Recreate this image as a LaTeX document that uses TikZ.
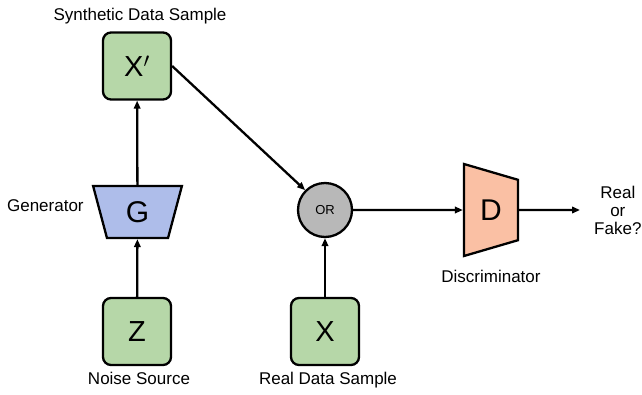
\documentclass[tikz,border=0pt]{standalone}
\usepackage{fontspec}
\setmainfont{Liberation Sans}
\usetikzlibrary{arrows.meta,positioning,shapes.geometric}
\definecolor{samplegreen}{RGB}{182,215,168}
\definecolor{genblue}{RGB}{174,189,234}
\definecolor{discred}{RGB}{250,192,164}
\definecolor{orgray}{RGB}{184,184,184}

\begin{document}
\begin{tikzpicture}[
  x=1pt,y=-1pt,
  node distance=6pt,
  lbl/.style={font=\fontsize{17}{18}\selectfont,inner sep=0pt,align=center},
  sample/.style={draw,line width=2.3pt,rounded corners=8pt,fill=samplegreen,
    minimum width=68pt,minimum height=67pt,font=\fontsize{29}{30}\selectfont},
  net/.style={draw,line width=2.3pt,trapezium,trapezium stretches=true,
    trapezium left angle=76,trapezium right angle=76,inner sep=0pt,
    font=\fontsize{30}{30}\selectfont},
  orgate/.style={draw,line width=2.3pt,circle,fill=orgray,minimum size=54pt,
    inner sep=0pt,font=\fontsize{13}{13}\selectfont},
  arr/.style={-{Triangle[length=8pt,width=6.5pt]},line width=2.3pt}
]
\useasboundingbox (0,0) rectangle (642,394);

\node[sample] (xp) at (137,66) {X$'$};
\node[net,fill=genblue,shape border rotate=180,minimum width=89pt,minimum height=52pt] (gen) at (137.5,212) {G};
\node[sample] (z) at (137,331.5) {Z};
\node[orgate] (or) at (325,210) {OR};
\node[sample] (x) at (325,331.5) {X};
\node[net,fill=discred,shape border rotate=270,minimum width=92pt,minimum height=54pt] (disc) at (491,210) {D};
\coordinate (res) at (580,210);

\node[lbl,above=7pt of xp,xshift=3pt] (synlbl) {Synthetic Data Sample};
\node[lbl,left=15pt of gen,yshift=6pt] (genlbl) {Generator};
\node[lbl,below=6pt of z,xshift=2pt] (zlbl) {Noise Source};
\node[lbl,below=6pt of x,xshift=3pt] (xlbl) {Real Data Sample};
\node[lbl,below=21pt of disc] (disclbl) {Discriminator};
\node[lbl,right=14pt of res] (reslbl) {Real\\or\\Fake?};

\draw[arr] (z)--(gen);
\draw[arr] (gen)--(xp);
\draw[arr] (xp.east)--(or.north west);
\draw[arr] (x)--(or);
\draw[arr] (or)--(disc);
\draw[arr] (disc)--(res);
\end{tikzpicture}
\end{document}
